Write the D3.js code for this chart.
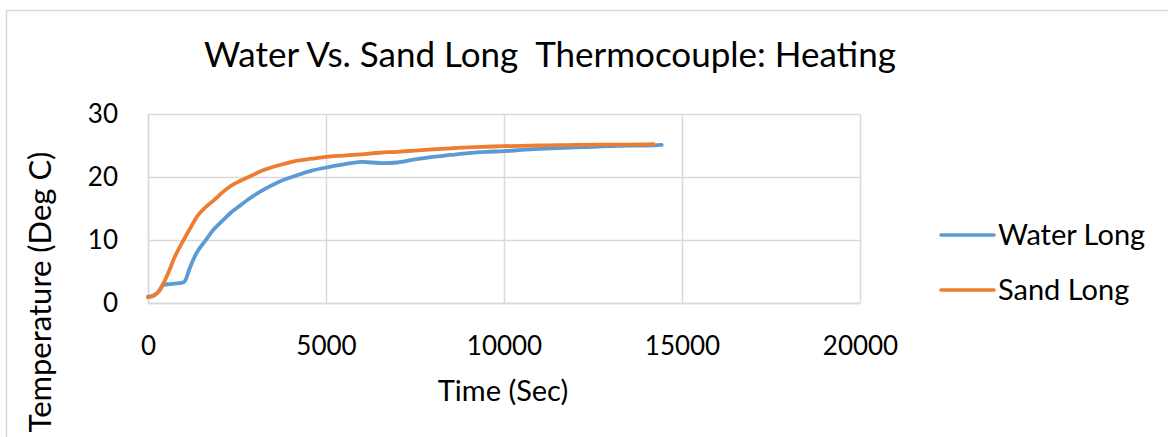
<!DOCTYPE html>
<html>
<head>
<meta charset="utf-8">
<script src="https://cdn.jsdelivr.net/npm/d3@7"></script>
<style>
  html, body { margin: 0; padding: 0; background: #fff; }
  svg { display: block; }
  text { font-family: Lato, "Open Sans", sans-serif; fill: #000; white-space: pre; }
</style>
</head>
<body>
<svg id="chart" width="1168" height="437"></svg>
<script>
// Heating run: temperature (deg C) against elapsed time (s)
const waterTime = [0, 150, 300, 450, 600, 800, 1000, 1060, 1150, 1350, 1600, 1850, 2100, 2300, 2550, 2800, 3250, 3700, 4200, 4600, 5000, 5500, 6000, 6300, 6600, 7000, 7500, 8000, 8500, 9000, 9500, 10000, 10500, 11000, 11500, 12000, 12500, 13000, 13500, 14000, 14430];
const waterTemp = [1.0, 1.2, 1.8, 2.9, 3.0, 3.1, 3.3, 3.7, 5.2, 7.8, 9.8, 11.7, 13.1, 14.2, 15.3, 16.4, 18.0, 19.3, 20.3, 21.0, 21.5, 22.0, 22.4, 22.3, 22.2, 22.3, 22.8, 23.2, 23.5, 23.8, 24.0, 24.1, 24.3, 24.45, 24.6, 24.7, 24.8, 24.9, 25.0, 25.0, 25.1];

const sandTime = [0, 150, 250, 350, 450, 600, 750, 1000, 1200, 1400, 1600, 1850, 2100, 2300, 2600, 2900, 3250, 3700, 4200, 4600, 5000, 5500, 6000, 6500, 7000, 7500, 8000, 8500, 9000, 9500, 10000, 10500, 11000, 11500, 12000, 13000, 13500, 14200];
const sandTemp = [0.9, 1.1, 1.5, 2.3, 3.3, 5.2, 7.3, 10.0, 12.0, 13.9, 15.1, 16.3, 17.6, 18.5, 19.4, 20.2, 21.1, 21.9, 22.6, 22.9, 23.2, 23.4, 23.6, 23.85, 24.0, 24.2, 24.4, 24.55, 24.7, 24.8, 24.9, 24.95, 25.0, 25.05, 25.1, 25.15, 25.15, 25.2];

const xTicks = [0, 5000, 10000, 15000, 20000];
const yTicks = [0, 10, 20, 30];

const seriesNames = ["Water Long", "Sand Long"];
const seriesColors = ["#5B9BD5", "#ED7D31"];

const chartTitle = "Water Vs. Sand Long  Thermocouple: Heating";
const xTitle = "Time (Sec)";
const yTitle = "Temperature (Deg C)";

const svg = d3.select("#chart");
const gridColor = "#D9D9D9";
const plot = { left: 148, right: 860, top: 114, bottom: 303 };
const tickFont = 26;
const labelFont = 29;

// chart frame (top and left edges visible)
svg.append("path")
  .attr("d", "M6.5,437 V10.5 H1168")
  .attr("fill", "none")
  .attr("stroke", gridColor)
  .attr("stroke-width", 1.5);

const x = d3.scaleLinear().domain([0, 20000]).range([plot.left, plot.right]);
const y = d3.scaleLinear().domain([0, 30]).range([plot.bottom, plot.top]);

// horizontal gridlines + y labels
const yAxis = svg.append("g")
  .attr("transform", `translate(${plot.left},0)`)
  .call(d3.axisLeft(y).tickValues(yTicks).tickFormat(d3.format("d"))
    .tickSize(-(plot.right - plot.left)).tickSizeOuter(0).tickPadding(30));
yAxis.select(".domain").attr("stroke", gridColor).attr("stroke-width", 1.5);
yAxis.selectAll(".tick line").attr("stroke", gridColor).attr("stroke-width", 1.5);
yAxis.selectAll(".tick text").attr("font-size", tickFont).attr("fill", "#000")
  .attr("font-family", "Lato, 'Open Sans', sans-serif");

// vertical gridlines + x labels
const xAxis = svg.append("g")
  .attr("transform", `translate(0,${plot.bottom})`)
  .call(d3.axisBottom(x).tickValues(xTicks).tickFormat(d3.format("d"))
    .tickSize(-(plot.bottom - plot.top)).tickSizeOuter(0).tickPadding(34));
xAxis.select(".domain").attr("stroke", gridColor).attr("stroke-width", 1.5);
xAxis.selectAll(".tick line").attr("stroke", gridColor).attr("stroke-width", 1.5);
xAxis.selectAll(".tick text").attr("font-size", tickFont).attr("fill", "#000")
  .attr("font-family", "Lato, 'Open Sans', sans-serif");

// data lines
const line = d3.line()
  .x(d => x(d[0]))
  .y(d => y(d[1]))
  .curve(d3.curveMonotoneX);

const series = [
  d3.zip(waterTime, waterTemp),
  d3.zip(sandTime, sandTemp)
];

series.forEach((pts, i) => {
  svg.append("path")
    .datum(pts)
    .attr("fill", "none")
    .attr("stroke", seriesColors[i])
    .attr("stroke-width", 3.8)
    .attr("stroke-linecap", "round")
    .attr("stroke-linejoin", "round")
    .attr("d", line);
});

// titles
svg.append("text")
  .attr("x", 550).attr("y", 67)
  .attr("text-anchor", "middle")
  .attr("font-size", 35)
  .text(chartTitle);

svg.append("text")
  .attr("x", 503).attr("y", 401)
  .attr("text-anchor", "middle")
  .attr("font-size", labelFont)
  .text(xTitle);

svg.append("text")
  .attr("transform", "translate(51,292) rotate(-90)")
  .attr("text-anchor", "middle")
  .attr("font-size", 31)
  .text(yTitle);

// legend
const legend = svg.append("g");
seriesNames.forEach((name, i) => {
  const ly = 235 + i * 55;
  legend.append("line")
    .attr("x1", 941).attr("x2", 994)
    .attr("y1", ly).attr("y2", ly)
    .attr("stroke", seriesColors[i])
    .attr("stroke-width", 3.5)
    .attr("stroke-linecap", "round");
  legend.append("text")
    .attr("x", 998).attr("y", ly)
    .attr("dy", "0.35em")
    .attr("font-size", labelFont)
    .text(name);
});
</script>
</body>
</html>
